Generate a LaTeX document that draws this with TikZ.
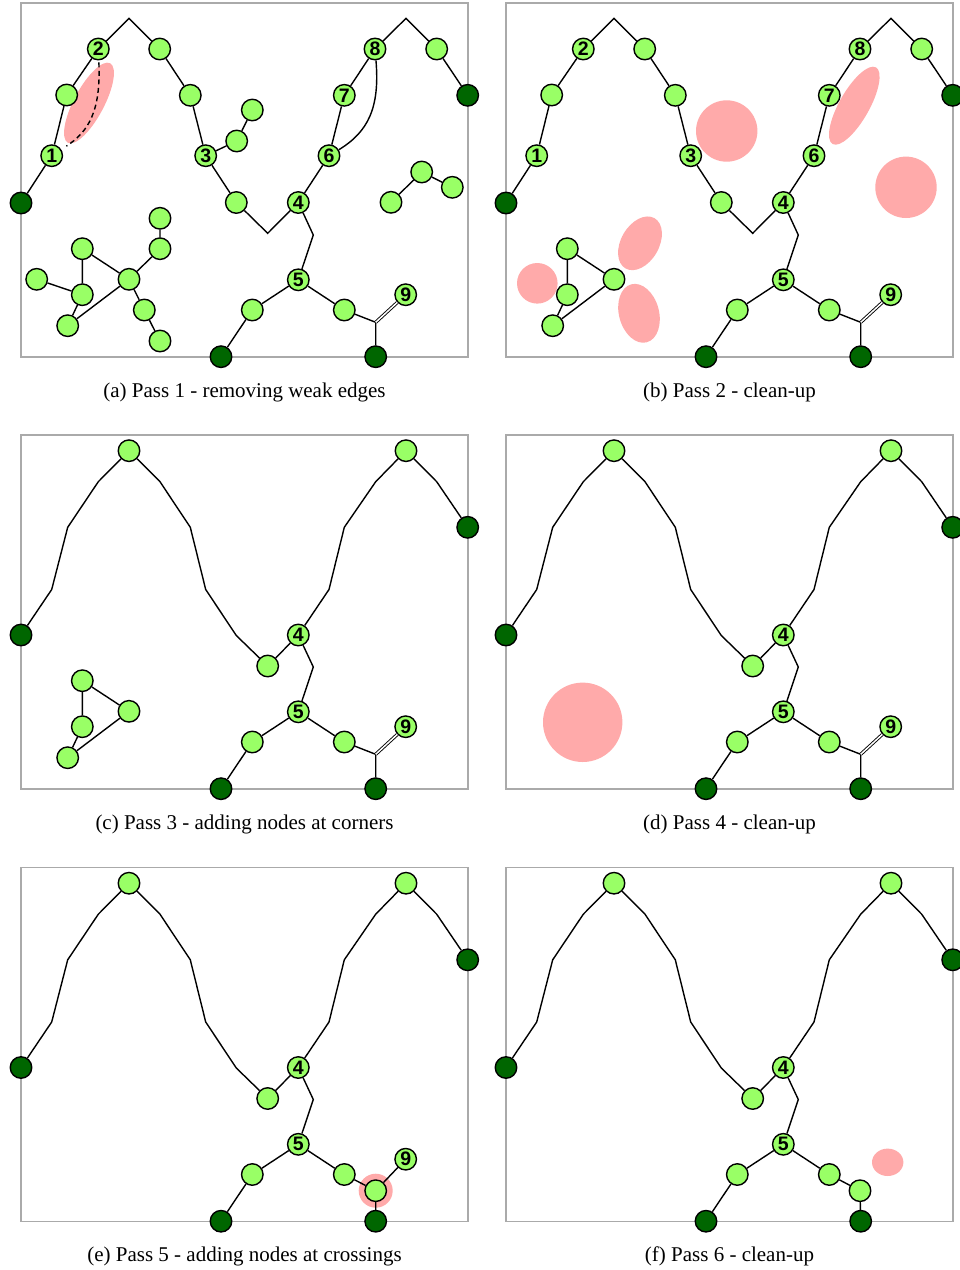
\documentclass[tikz,border=0pt]{standalone}
\usepackage{fontspec}
\setmainfont{Liberation Serif}
\newfontfamily\lsans{Liberation Sans}
\definecolor{lgreen}{HTML}{99FF66}
\definecolor{dgreen}{HTML}{006600}
\definecolor{pinkc}{HTML}{FFAAAA}
\definecolor{framec}{HTML}{AAAAAA}
\tikzset{
  nd/.style={circle, draw=black, line width=1.4pt, minimum size=21.5pt, inner sep=0pt, fill=lgreen, font=\lsans\bfseries\fontsize{19.5}{19.5}\selectfont},
  dk/.style={nd, fill=dgreen},
  edge/.style={draw=black, line width=1.4pt},
  dbl/.style={draw=black, line width=0.9pt, double=white, double distance=1.5pt},
  frm/.style={draw=framec, line width=1.3pt},
  blob/.style={fill=pinkc},
  capt/.style={font=\fontsize{21}{23}\selectfont, anchor=base}
}
% main wave, passes 1-2
\newcommand\waveAB[1]{%
  \node[dk] (#1L) at (21,203) {};
  \node[nd] (#11) at (51.7,155.7) {1};
  \node[nd] (#1na) at (66.7,95) {};
  \node[nd] (#12) at (98.3,49) {2};
  \coordinate (#1p1) at (129,18.3);
  \node[nd] (#1nb) at (159.7,49) {};
  \node[nd] (#1nc) at (190.3,95.3) {};
  \node[nd] (#13) at (205.7,155.7) {3};
  \node[nd] (#1nd) at (236.3,202.5) {};
  \coordinate (#1v) at (267.7,233.3);
  \node[nd] (#14) at (298.3,202.5) {4};
  \node[nd] (#16) at (329,155.7) {6};
  \node[nd] (#17) at (344.3,95.3) {7};
  \node[nd] (#18) at (375,49) {8};
  \coordinate (#1p2) at (406,18.3);
  \node[nd] (#1ne) at (436.7,49) {};
  \node[dk] (#1R) at (467.7,95.3) {};
  \draw[edge] (#1L) -- (#11) -- (#1na) -- (#12) -- (#1p1) -- (#1nb) -- (#1nc) -- (#13) -- (#1nd) -- (#1v) -- (#14) -- (#16) -- (#17) -- (#18) -- (#1p2) -- (#1ne) -- (#1R);
}
% main wave, passes 3-6
\newcommand\waveCF[1]{%
  \node[dk] (#1L) at (21,203) {};
  \coordinate (#1q1) at (51.7,157.5);
  \coordinate (#1q2) at (67.7,95.3);
  \coordinate (#1q3) at (98.3,49.7);
  \node[nd] (#1P1) at (129,18.7) {};
  \coordinate (#1q4) at (160,49.7);
  \coordinate (#1q5) at (190.3,95.3);
  \coordinate (#1q6) at (205.7,157.5);
  \coordinate (#1q7) at (236.3,203.5);
  \node[nd] (#1V) at (267.7,234) {};
  \node[nd] (#14) at (298.3,203) {4};
  \coordinate (#1q8) at (329,157.5);
  \coordinate (#1q9) at (344.3,95.3);
  \coordinate (#1q10) at (375.7,49.7);
  \node[nd] (#1P2) at (406,18.7) {};
  \coordinate (#1q11) at (436.7,49.7);
  \node[dk] (#1R) at (467.7,95.3) {};
  \draw[edge] (#1L) -- (#1q1) -- (#1q2) -- (#1q3) -- (#1P1) -- (#1q4) -- (#1q5) -- (#1q6) -- (#1q7) -- (#1V) -- (#14) -- (#1q8) -- (#1q9) -- (#1q10) -- (#1P2) -- (#1q11) -- (#1R);
}
% lower tree (common part)
\newcommand\lowerpart[1]{%
  \coordinate (#1c45) at (313.3,235);
  \node[nd] (#15) at (298.3,279.8) {5};
  \node[nd] (#1nf) at (252.3,310) {};
  \node[dk] (#1B1) at (221,356.7) {};
  \node[nd] (#1ng) at (344.3,310) {};
  \node[dk] (#1B2) at (375.7,356.7) {};
  \draw[edge] (#14) -- (#1c45) -- (#15);
  \draw[edge] (#15) -- (#1nf) -- (#1B1);
  \draw[edge] (#15) -- (#1ng);
}
% crossing with double edge (passes 1-4)
\newcommand\crossing[1]{%
  \coordinate (#1j) at (375.7,322.3);
  \node[nd] (#19) at (405.7,294.7) {9};
  \draw[edge] (#1ng) -- (#1j) -- (#1B2);
  \draw[dbl] (#1j) -- (#19);
}
% triangle cluster
\newcommand\tricluster[1]{%
  \node[nd] (#1k2) at (82.3,248.7) {};
  \node[nd] (#1k3) at (82.3,294.7) {};
  \node[nd] (#1k4) at (67.7,325.7) {};
  \node[nd] (#1k5) at (129,279.3) {};
  \draw[edge] (#1k2) -- (#1k3) -- (#1k4) -- (#1k5) -- (#1k2);
}
\begin{document}
\begin{tikzpicture}[x=1pt,y=-1pt]
\useasboundingbox (0,0) rectangle (960,1270);
\fill[white] (0,0) rectangle (960,1270);

% ---------- (a) ----------
\begin{scope}
  \draw[frm] (21,3) rectangle (468,357);
  \fill[blob, rotate around={62:(89,103)}] (89,103) ellipse [x radius=45pt, y radius=15pt];
  \waveAB{a}
  \lowerpart{a}
  \crossing{a}
  \tricluster{a}
  \node[nd] (ak1) at (36.7,279.3) {};
  \node[nd] (ak6) at (160,248.7) {};
  \node[nd] (ak7) at (160,218.3) {};
  \node[nd] (ak8) at (144.3,310) {};
  \node[nd] (ak9) at (160,341) {};
  \draw[edge] (ak1) -- (ak3);
  \draw[edge] (ak5) -- (ak6) -- (ak7);
  \draw[edge] (ak5) -- (ak8) -- (ak9);
  \node[nd] (ar1) at (236.7,141) {};
  \node[nd] (ar2) at (252.3,110) {};
  \draw[edge] (a3) -- (ar1) -- (ar2);
  \node[nd] (as1) at (391,202.3) {};
  \node[nd] (as2) at (421.7,172) {};
  \node[nd] (as3) at (452.3,187.3) {};
  \draw[edge] (as1) -- (as2) -- (as3);
  \draw[edge] (a8) .. controls (380,108) and (368,132) .. (a6);
  \draw[edge, dash pattern=on 5pt off 3.5pt, shorten <=2pt, shorten >=6pt] (a2) .. controls (101,112) and (88,132) .. (a1);
  \node[capt] (capa) at (244.5,397) {(a) Pass 1 - removing weak edges};
\end{scope}

% ---------- (b) ----------
\begin{scope}[shift={(485,0)}]
  \draw[frm] (21,3) rectangle (468,357);
  \fill[blob] (241.7,131) circle [radius=30.7pt];
  \fill[blob] (421,187.3) circle [radius=30.7pt];
  \fill[blob] (52.3,283.3) circle [radius=20.3pt];
  \fill[blob, rotate around={60.5:(369.3,105.7)}] (369.3,105.7) ellipse [x radius=44pt, y radius=15pt];
  \fill[blob, rotate around={60:(155,243.3)}] (155,243.3) ellipse [x radius=29pt, y radius=19pt];
  \fill[blob, rotate around={105:(154,313.3)}] (154,313.3) ellipse [x radius=30pt, y radius=20pt];
  \waveAB{b}
  \lowerpart{b}
  \crossing{b}
  \tricluster{b}
  \node[capt] (capb) at (244.5,397) {(b) Pass 2 - clean-up};
\end{scope}

% ---------- (c) ----------
\begin{scope}[shift={(0,432)}]
  \draw[frm] (21,3) rectangle (468,357);
  \waveCF{c}
  \lowerpart{c}
  \crossing{c}
  \tricluster{c}
  \node[capt] (capc) at (244.5,397) {(c) Pass 3 - adding nodes at corners};
\end{scope}

% ---------- (d) ----------
\begin{scope}[shift={(485,432)}]
  \draw[frm] (21,3) rectangle (468,357);
  \fill[blob] (97.7,290.3) circle [radius=39.7pt];
  \waveCF{d}
  \lowerpart{d}
  \crossing{d}
  \node[capt] (capd) at (244.5,397) {(d) Pass 4 - clean-up};
\end{scope}

% ---------- (e) ----------
\begin{scope}[shift={(0,864.5)}]
  \draw[frm] (21,3) rectangle (468,357);
  \fill[blob] (375.7,326.2) circle [radius=17pt];
  \waveCF{e}
  \lowerpart{e}
  \node[nd] (enh) at (375.7,326.2) {};
  \node[nd] (e9) at (405.7,294.7) {9};
  \draw[edge] (eng) -- (enh) -- (eB2);
  \draw[edge] (enh) -- (e9);
  \node[capt] (cape) at (244.5,397) {(e) Pass 5 - adding nodes at crossings};
\end{scope}

% ---------- (f) ----------
\begin{scope}[shift={(485,864.5)}]
  \draw[frm] (21,3) rectangle (468,357);
  \fill[blob] (402.7,297.8) ellipse [x radius=15.7pt, y radius=13.7pt];
  \waveCF{f}
  \lowerpart{f}
  \node[nd] (fnh) at (375,326.2) {};
  \draw[edge] (fng) -- (fnh) -- (fB2);
  \node[capt] (capf) at (244.5,397) {(f) Pass 6 - clean-up};
\end{scope}
\end{tikzpicture}
\end{document}
